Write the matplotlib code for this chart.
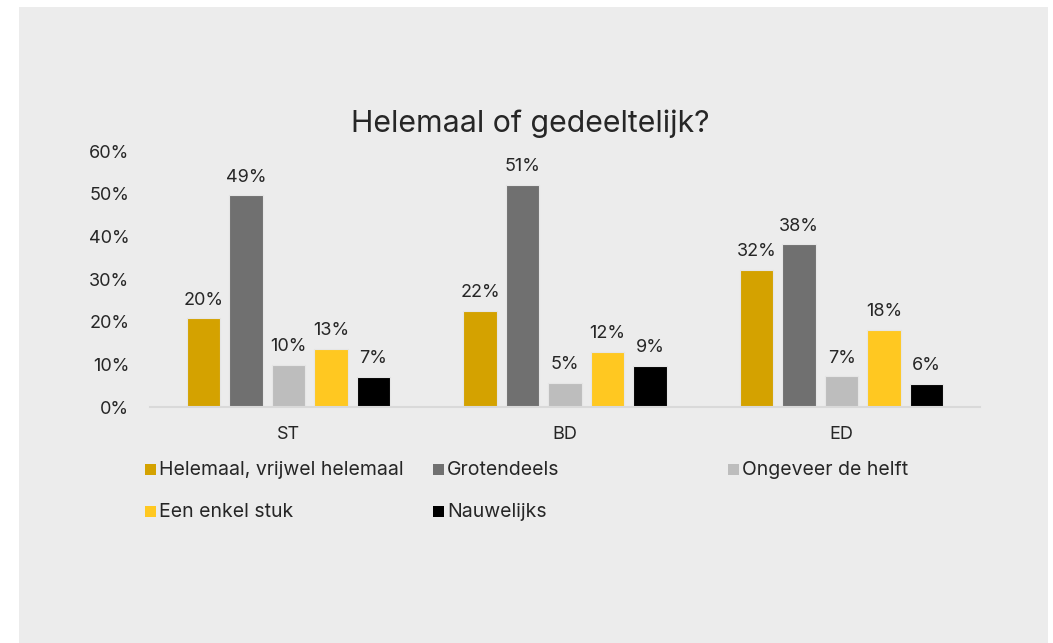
import matplotlib
matplotlib.use("Agg")
import matplotlib.pyplot as plt
from matplotlib.patches import Rectangle
import numpy as np

plt.rcParams['font.family'] = ['Inter', 'DejaVu Sans']

categories = ["ST", "BD", "ED"]
series_names = ["Helemaal, vrijwel helemaal", "Grotendeels", "Ongeveer de helft",
                "Een enkel stuk", "Nauwelijks"]
# bar heights (fraction) per series, across categories ST, BD, ED
helemaal = [0.208, 0.225, 0.322]
grotendeels = [0.496, 0.520, 0.381]
ongeveer = [0.098, 0.056, 0.072]
enkel = [0.137, 0.129, 0.180]
nauwelijks = [0.071, 0.096, 0.055]
# data label texts as shown
lbl_helemaal = ["20%", "22%", "32%"]
lbl_grotendeels = ["49%", "51%", "38%"]
lbl_ongeveer = ["10%", "5%", "7%"]
lbl_enkel = ["13%", "12%", "18%"]
lbl_nauwelijks = ["7%", "9%", "6%"]
yticks = [0, 0.1, 0.2, 0.3, 0.4, 0.5, 0.6]
ytick_labels = ["0%", "10%", "20%", "30%", "40%", "50%", "60%"]

values = [helemaal, grotendeels, ongeveer, enkel, nauwelijks]
labels = [lbl_helemaal, lbl_grotendeels, lbl_ongeveer, lbl_enkel, lbl_nauwelijks]
colors = ["#D4A200", "#707070", "#BDBDBD", "#FFC821", "#000000"]

W, H = 1053, 643
fig = plt.figure(figsize=(W / 100, H / 100), dpi=100)
fig.patch.set_facecolor("white")
bg = Rectangle((19 / W, 0), (1048 - 19) / W, (H - 7) / H, transform=fig.transFigure,
               facecolor="#ECECEC", edgecolor="none", zorder=-10)
fig.patches.append(bg)

ax = fig.add_axes([150 / W, 1 - 407 / H, (980 - 150) / W, (407 - 151) / H])
ax.set_facecolor("none")
x = np.arange(len(categories))
step = 0.1536
bw = 0.121
textc = "#262626"
for i, (vals, labs, c) in enumerate(zip(values, labels, colors)):
    xs = x + (i - 2) * step
    bars = ax.bar(xs, vals, width=bw, color=c, edgecolor="#E6E6E6", linewidth=0.8, zorder=3)
    for b, t in zip(bars, labs):
        ax.annotate(t, (b.get_x() + b.get_width() / 2, b.get_height()),
                    xytext=(0, 7), textcoords="offset points", ha="center", va="bottom",
                    fontsize=13, color=textc)

ax.set_xlim(-0.5, 2.5)
ax.set_ylim(0, 0.6)
ax.set_yticks(yticks)
ax.set_yticklabels(ytick_labels, fontsize=13, color=textc)
ax.set_xticks(x)
ax.set_xticklabels(categories, fontsize=13, color=textc)
ax.tick_params(axis="both", length=0)
ax.tick_params(axis="y", pad=15)
ax.tick_params(axis="x", pad=14)
for s in ["top", "right", "left"]:
    ax.spines[s].set_visible(False)
ax.spines["bottom"].set_color("#D9D9D9")
ax.spines["bottom"].set_linewidth(1.5)
ax.spines["bottom"].set_zorder(4)

fig.text(530 / W, 1 - 124 / H, "Helemaal of gedeeltelijk?", ha="center", va="center",
         fontsize=21.8, color=textc)

# legend laid out like the original (row-major, three equal columns)
leg_pos = [(145, 470), (433, 470), (728, 470), (145, 512), (433, 512)]
for (lx, ly), name, c in zip(leg_pos, series_names, colors):
    fig.patches.append(Rectangle((lx / W, 1 - (ly + 5) / H), 11 / W, 11 / H,
                                 transform=fig.transFigure, facecolor=c, edgecolor="none"))
    fig.text((lx + 14) / W, 1 - ly / H, name, ha="left", va="center", fontsize=14, color=textc)

fig.savefig("out.png", dpi=100)
